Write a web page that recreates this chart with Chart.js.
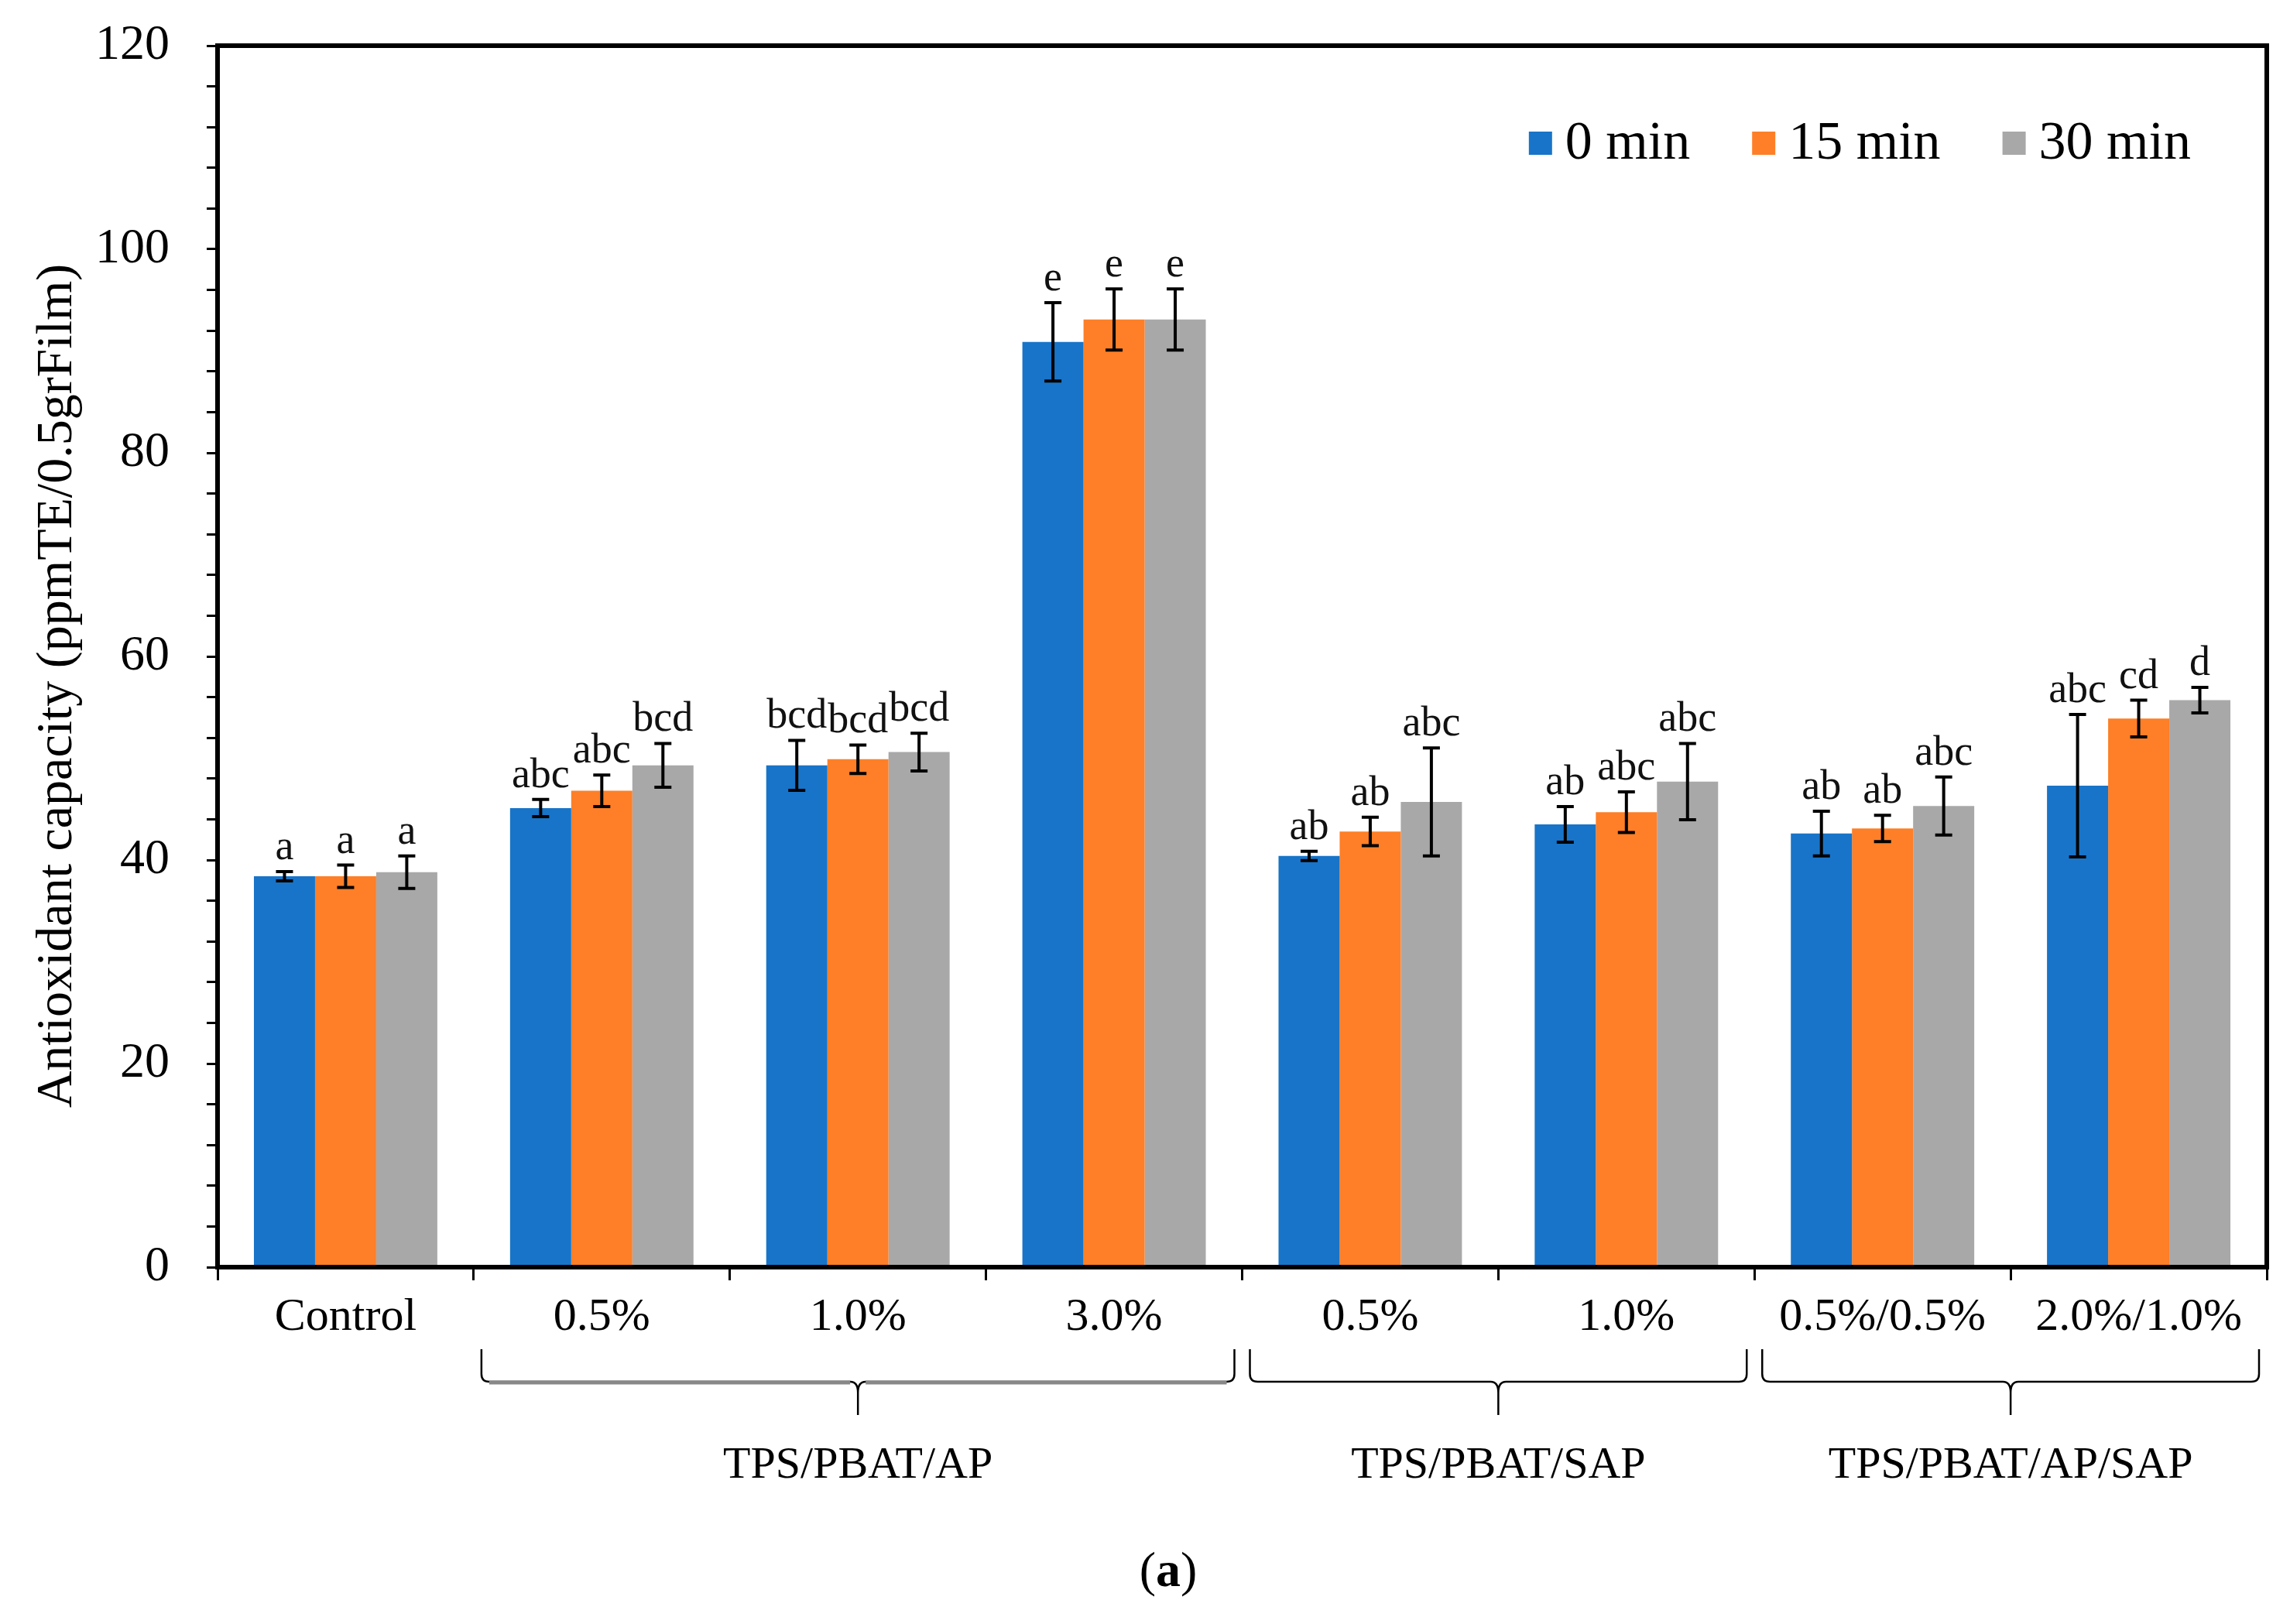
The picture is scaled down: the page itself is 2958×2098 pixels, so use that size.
<!DOCTYPE html>
<html lang="en">
<head>
  <meta charset="UTF-8">
  <title>Antioxidant capacity</title>
  <script src="https://cdn.jsdelivr.net/npm/chart.js"></script>
  <style>
    html, body { margin: 0; padding: 0; background: #fff; }
    canvas { display: block; }
  </style>
</head>
<body>
  <canvas id="grafico" width="2958" height="2098"></canvas>

  <script>
    // categorie e valori
    const categorie = ['Control', '0.5%', '1.0%', '3.0%', '0.5%', '1.0%', '0.5%/0.5%', '2.0%/1.0%'];

    const min0  = [38.4, 45.1, 49.3, 90.9, 40.4, 43.5, 42.6, 47.3];
    const err0  = [0.45, 0.85, 2.45, 3.85, 0.45, 1.75, 2.2, 7.0];
    const lett0 = ['a', 'abc', 'bcd', 'e', 'ab', 'ab', 'ab', 'abc'];

    const min15  = [38.4, 46.8, 49.9, 93.1, 42.8, 44.7, 43.1, 53.9];
    const err15  = [1.1, 1.55, 1.4, 3.0, 1.4, 2.0, 1.3, 1.8];
    const lett15 = ['a', 'abc', 'bcd', 'e', 'ab', 'abc', 'ab', 'cd'];

    const min30  = [38.8, 49.3, 50.6, 93.1, 45.7, 47.7, 45.3, 55.7];
    const err30  = [1.6, 2.15, 1.85, 3.0, 5.3, 3.75, 2.85, 1.25];
    const lett30 = ['a', 'bcd', 'bcd', 'e', 'abc', 'abc', 'abc', 'd'];

    // gruppi sotto l'asse x (indici di categoria)
    const gruppi      = ['TPS/PBAT/AP', 'TPS/PBAT/SAP', 'TPS/PBAT/AP/SAP'];
    const gruppiDa    = [1, 4, 6];
    const gruppiA     = [3, 5, 7];

    const titoloY = 'Antioxidant capacity (ppmTE/0.5grFilm)';
    const FONT = '"Liberation Serif", "Times New Roman", serif';

    const overlay = {
      id: 'overlay',
      afterDatasetsDraw(chart) {
        const ctx = chart.ctx;
        const y = chart.scales.y;
        chart.data.datasets.forEach((ds, di) => {
          const meta = chart.getDatasetMeta(di);
          meta.data.forEach((bar, i) => {
            const top = y.getPixelForValue(ds.data[i] + ds.err[i]);
            const bot = y.getPixelForValue(ds.data[i] - ds.err[i]);
            ctx.save();
            ctx.strokeStyle = '#000';
            ctx.lineWidth = 4;
            ctx.beginPath();
            ctx.moveTo(bar.x, top); ctx.lineTo(bar.x, bot);
            ctx.moveTo(bar.x - 11, top); ctx.lineTo(bar.x + 11, top);
            ctx.moveTo(bar.x - 11, bot); ctx.lineTo(bar.x + 11, bot);
            ctx.stroke();
            ctx.font = '54px ' + FONT;
            ctx.fillStyle = '#111';
            ctx.textAlign = 'center';
            ctx.textBaseline = 'alphabetic';
            ctx.fillText(ds.letters[i], bar.x, top - 16);
            ctx.restore();
          });
        });
      },
      afterDraw(chart) {
        const ctx = chart.ctx;
        const a = chart.chartArea;
        const x = chart.scales.x;
        ctx.save();

        // cornice
        ctx.strokeStyle = '#000';
        ctx.lineWidth = 6;
        ctx.strokeRect(a.left, a.top, a.right - a.left, a.bottom - a.top);

        // legenda
        ctx.font = '70px ' + FONT;
        ctx.textBaseline = 'middle';
        ctx.textAlign = 'left';
        const items = chart.data.datasets.map(d => ({ t: d.label, c: d.backgroundColor, w: ctx.measureText(d.label).width }));
        let tot = 0;
        items.forEach((it, k) => { tot += 30 + 17 + it.w + (k < items.length - 1 ? 80 : 0); });
        let lx = a.right - 98 - tot;
        const ly = a.top + 126;
        items.forEach(it => {
          ctx.fillStyle = it.c;
          ctx.fillRect(lx, ly - 15, 30, 30);
          ctx.fillStyle = '#000';
          ctx.fillText(it.t, lx + 47, ly + 2);
          lx += 30 + 17 + it.w + 80;
        });

        // titolo asse y
        ctx.save();
        ctx.translate(75, 886);
        ctx.rotate(-Math.PI / 2);
        ctx.font = '66px ' + FONT;
        ctx.textAlign = 'center';
        ctx.fillStyle = '#000';
        ctx.fillText(titoloY, 0, 0);
        ctx.restore();

        // parentesi graffe dei gruppi
        const cat = (x.getPixelForValue(1) - x.getPixelForValue(0));
        const yTop = a.bottom + 106, yMid = a.bottom + 148, yTip = a.bottom + 191;
        gruppi.forEach((g, k) => {
          const l = x.getPixelForValue(gruppiDa[k]) - cat / 2 + 10;
          const r = x.getPixelForValue(gruppiA[k]) + cat / 2 - 10;
          const cx = (l + r) / 2;
          ctx.strokeStyle = '#000';
          ctx.lineWidth = 2.5;
          ctx.beginPath();
          ctx.moveTo(l, yTop);
          ctx.lineTo(l, yMid - 10);
          ctx.quadraticCurveTo(l, yMid, l + 10, yMid);
          ctx.lineTo(cx - 10, yMid);
          ctx.quadraticCurveTo(cx, yMid, cx, yMid + 14);
          ctx.lineTo(cx, yTip);
          ctx.moveTo(r, yTop);
          ctx.lineTo(r, yMid - 10);
          ctx.quadraticCurveTo(r, yMid, r - 10, yMid);
          ctx.lineTo(cx + 10, yMid);
          ctx.quadraticCurveTo(cx, yMid, cx, yMid + 14);
          ctx.stroke();
          if (k === 0) {
            ctx.strokeStyle = '#888';
            ctx.lineWidth = 5;
            ctx.beginPath();
            ctx.moveTo(l + 10, yMid + 1); ctx.lineTo(cx - 10, yMid + 1);
            ctx.moveTo(cx + 10, yMid + 1); ctx.lineTo(r - 10, yMid + 1);
            ctx.stroke();
          }
          ctx.font = '58px ' + FONT;
          ctx.fillStyle = '#000';
          ctx.textAlign = 'center';
          ctx.textBaseline = 'middle';
          ctx.fillText(g, cx, a.bottom + 257);
        });

        // etichetta (a)
        ctx.textBaseline = 'middle';
        ctx.textAlign = 'left';
        ctx.font = '64px ' + FONT;
        const wp = ctx.measureText('(').width;
        ctx.font = 'bold 64px ' + FONT;
        const wa = ctx.measureText('a').width;
        let px = 1509 - (wp * 2 + wa) / 2;
        const py = 2032;
        ctx.font = '64px ' + FONT;
        ctx.fillText('(', px, py);
        ctx.font = 'bold 64px ' + FONT;
        ctx.fillText('a', px + wp, py);
        ctx.font = '64px ' + FONT;
        ctx.fillText(')', px + wp + wa, py);

        ctx.restore();
      }
    };

    const ctx = document.getElementById('grafico').getContext('2d');
    const chart = new Chart(ctx, {
      type: 'bar',
      data: {
        labels: categorie,
        datasets: [
          { label: '0 min',  data: min0,  err: err0,  letters: lett0,  backgroundColor: '#1874C8' },
          { label: '15 min', data: min15, err: err15, letters: lett15, backgroundColor: '#FE7F27' },
          { label: '30 min', data: min30, err: err30, letters: lett30, backgroundColor: '#A8A8A8' }
        ]
      },
      options: {
        responsive: false,
        devicePixelRatio: 1,
        animation: false,
        datasets: {
          bar: { categoryPercentage: 0.716, barPercentage: 1.0, borderWidth: 0 }
        },
        layout: { padding: { top: 59, right: 30, left: 0, bottom: 0 } },
        plugins: {
          legend: { display: false },
          tooltip: { enabled: false }
        },
        scales: {
          x: {
            offset: true,
            afterFit: s => { s.height = 461; s.paddingLeft = 0; s.paddingRight = 0; },
            border: { display: false },
            grid: {
              offset: true,
              drawOnChartArea: false,
              drawTicks: true,
              tickLength: 17,
              tickWidth: 3,
              tickColor: '#000'
            },
            ticks: {
              color: '#000',
              padding: 12,
              maxRotation: 0,
              autoSkip: false,
              font: { family: FONT, size: 60 }
            }
          },
          y: {
            min: 0,
            max: 120,
            afterFit: s => { s.width = 281; s.paddingTop = 0; s.paddingBottom = 0; },
            border: { display: false },
            grid: {
              drawOnChartArea: false,
              drawTicks: true,
              tickLength: 14,
              tickWidth: 3,
              tickColor: '#000'
            },
            ticks: {
              stepSize: 4,
              autoSkip: false,
              color: '#000',
              padding: 48,
              font: { family: FONT, size: 64 },
              callback: v => (v % 20 === 0 ? v : '')
            }
          }
        }
      },
      plugins: [overlay]
    });
  </script>
</body>
</html>
